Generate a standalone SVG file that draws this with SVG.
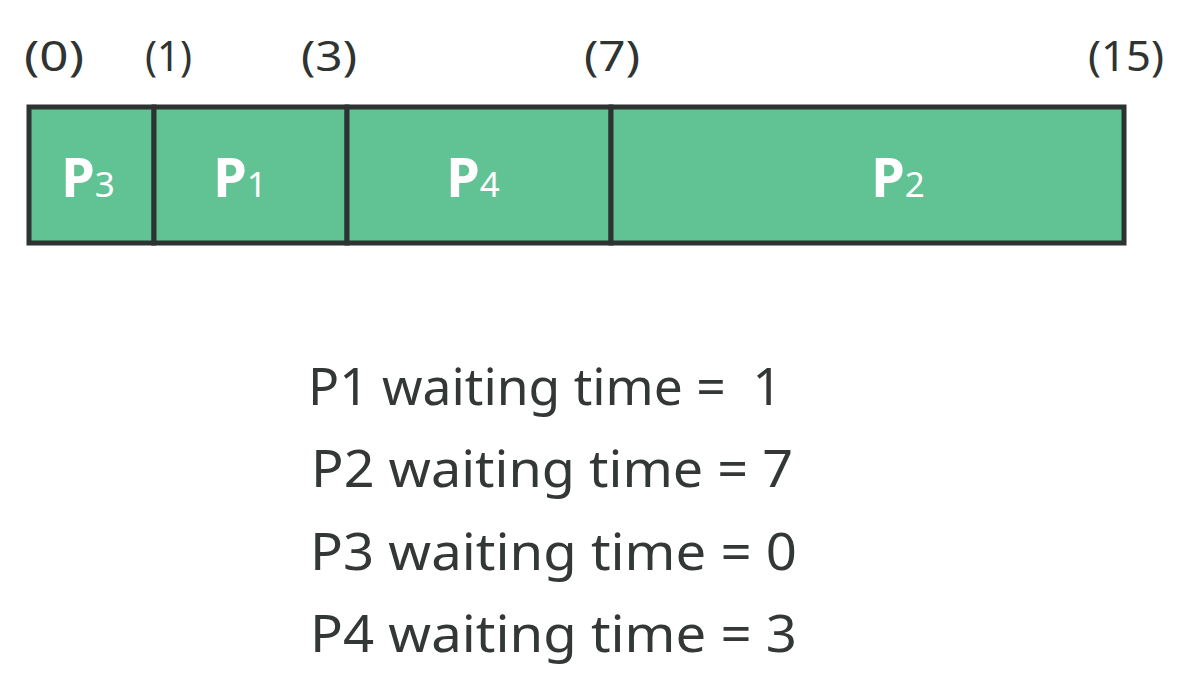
<svg xmlns="http://www.w3.org/2000/svg" width="1194" height="698" viewBox="0 0 1194 698">
<style>
.tick{font-family:"Noto Sans","Open Sans",sans-serif;font-size:42px;fill:#2f3331}
.cell{fill:#61c393;stroke:#2d3330;stroke-width:5}
.pl{font-family:"Noto Sans","Open Sans",sans-serif;fill:#ffffff;text-anchor:middle}
.pb{font-weight:700;font-size:54px}
.ps{font-weight:400;font-size:35px}
.wt{font-family:"Noto Sans","Open Sans",sans-serif;font-size:51px;fill:#333735}
</style>
<rect width="1194" height="698" fill="#ffffff"/>
<g id="ticks">
<text class="tick" x="24" y="71" textLength="60" lengthAdjust="spacingAndGlyphs">(0)</text>
<text class="tick" x="145" y="71" textLength="47" lengthAdjust="spacingAndGlyphs">(1)</text>
<text class="tick" x="301" y="71" textLength="56" lengthAdjust="spacingAndGlyphs">(3)</text>
<text class="tick" x="584" y="71" textLength="56" lengthAdjust="spacingAndGlyphs">(7)</text>
<text class="tick" x="1088" y="71" textLength="76" lengthAdjust="spacingAndGlyphs">(15)</text>
</g>
<g id="P3"><rect class="cell" x="29" y="107" width="125" height="136"/>
<text class="pl" x="88" y="197"><tspan class="pb">P</tspan><tspan class="ps">3</tspan></text></g>
<g id="P1"><rect class="cell" x="154" y="107" width="193" height="136"/>
<text class="pl" x="240" y="197"><tspan class="pb">P</tspan><tspan class="ps">1</tspan></text></g>
<g id="P4"><rect class="cell" x="347" y="107" width="264" height="136"/>
<text class="pl" x="473" y="197"><tspan class="pb">P</tspan><tspan class="ps">4</tspan></text></g>
<g id="P2"><rect class="cell" x="611" y="107" width="513" height="136"/>
<text class="pl" x="898" y="197"><tspan class="pb">P</tspan><tspan class="ps">2</tspan></text></g>
<g id="waiting">
<text class="wt" x="308" y="405" textLength="474" lengthAdjust="spacingAndGlyphs" xml:space="preserve">P1 waiting time =  1</text>
<text class="wt" x="311" y="487" textLength="482" lengthAdjust="spacingAndGlyphs">P2 waiting time = 7</text>
<text class="wt" x="310" y="570" textLength="487" lengthAdjust="spacingAndGlyphs">P3 waiting time = 0</text>
<text class="wt" x="310" y="652" textLength="487" lengthAdjust="spacingAndGlyphs">P4 waiting time = 3</text>
</g>
</svg>
